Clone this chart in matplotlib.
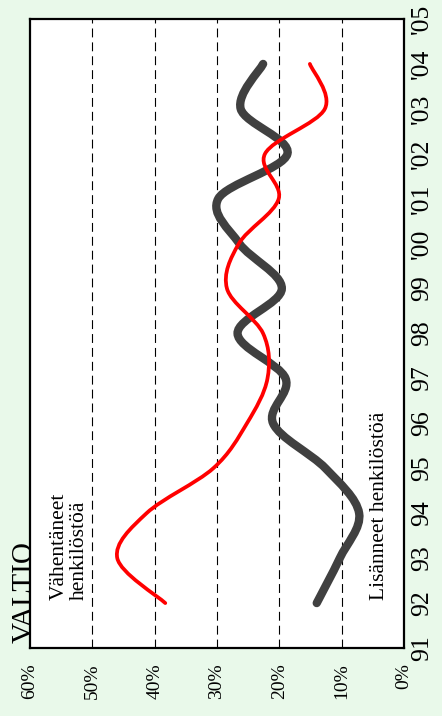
import matplotlib
matplotlib.use("Agg")
import matplotlib.pyplot as plt
import numpy as np
from matplotlib.path import Path
from matplotlib.patches import PathPatch

plt.rcParams['font.family'] = ['Liberation Serif', 'DejaVu Serif']

years = [1992, 1993, 1994, 1995, 1996, 1997, 1998, 1999, 2000, 2001, 2002, 2003, 2004]
lisanneet = [14.0, 10.3, 7.2, 12.6, 21.0, 19.0, 26.7, 19.6, 26.4, 29.8, 18.7, 26.2, 22.6]
vahentaneet = [38.3, 46.0, 41.3, 30.6, 25.2, 21.9, 22.6, 28.4, 26.5, 20.1, 22.3, 12.7, 15.1]

year_ticks = list(range(1991, 2006))
year_labels = ['91', '92', '93', '94', '95', '96', '97', '98', '99',
               "'00", "'01", "'02", "'03", "'04", "'05"]
pct_ticks = [0, 10, 20, 30, 40, 50, 60]
pct_labels = ['0%', '10%', '20%', '30%', '40%', '50%', '60%']


def smooth_path(xs, ys):
    # catmull-rom through the points, drawn as bezier segments (like excel smoothing)
    p = np.column_stack([xs, ys]).astype(float)
    n = len(p)
    verts = [p[0]]
    codes = [Path.MOVETO]
    for i in range(n - 1):
        p0 = p[i - 1] if i > 0 else p[i]
        p3 = p[i + 2] if i + 2 < n else p[i + 1]
        c1 = p[i] + (p[i + 1] - p0) / 6.0
        c2 = p[i + 1] - (p3 - p[i]) / 6.0
        verts += [c1, c2, p[i + 1]]
        codes += [Path.CURVE4] * 3
    return Path(verts, codes)


fig = plt.figure(figsize=(4.42, 7.16), dpi=100, facecolor='#e9f9ea')
ax = fig.add_axes([30 / 442, 68 / 716, 374 / 442, 629 / 716])
ax.set_facecolor('white')

ax.set_xlim(60, 0)
ax.set_ylim(1991, 2005)

for g in [10, 20, 30, 40, 50]:
    ax.axvline(g, color='black', lw=0.8, linestyle=(0, (8, 4.5)), zorder=1)

ax.add_patch(PathPatch(smooth_path(lisanneet, years), fill=False,
                       edgecolor='#404040', lw=6.0, capstyle='round', zorder=3))
ax.add_patch(PathPatch(smooth_path(vahentaneet, years), fill=False,
                       edgecolor='#ff0000', lw=2.7, capstyle='round', zorder=4))

ax.set_xticks(pct_ticks)
ax.set_xticklabels(pct_labels, rotation=90, fontsize=14, va='top', ha='center')
ax.yaxis.tick_right()
ax.set_yticks(year_ticks)
ax.set_yticklabels(year_labels, rotation=90, fontsize=18.5, va='center', ha='left')
ax.tick_params(axis='x', length=0, pad=11)
ax.tick_params(axis='y', length=0, pad=5)

for s in ax.spines.values():
    s.set_linewidth(1.6)

ax.text(56.8, 1992.07, 'Vähentäneet\nhenkilöstöä', rotation=90, fontsize=15.5,
        ha='left', va='bottom', linespacing=1.05, zorder=5)
ax.text(5.4, 1992.07, 'Lisänneet henkilöstöä', rotation=90, fontsize=15.5,
        ha='left', va='bottom', zorder=5)

fig.text(12 / 442, 73 / 716, 'VALTIO', rotation=90, fontsize=21,
         ha='left', va='bottom')

fig.savefig('out.png', dpi=100, facecolor=fig.get_facecolor())
